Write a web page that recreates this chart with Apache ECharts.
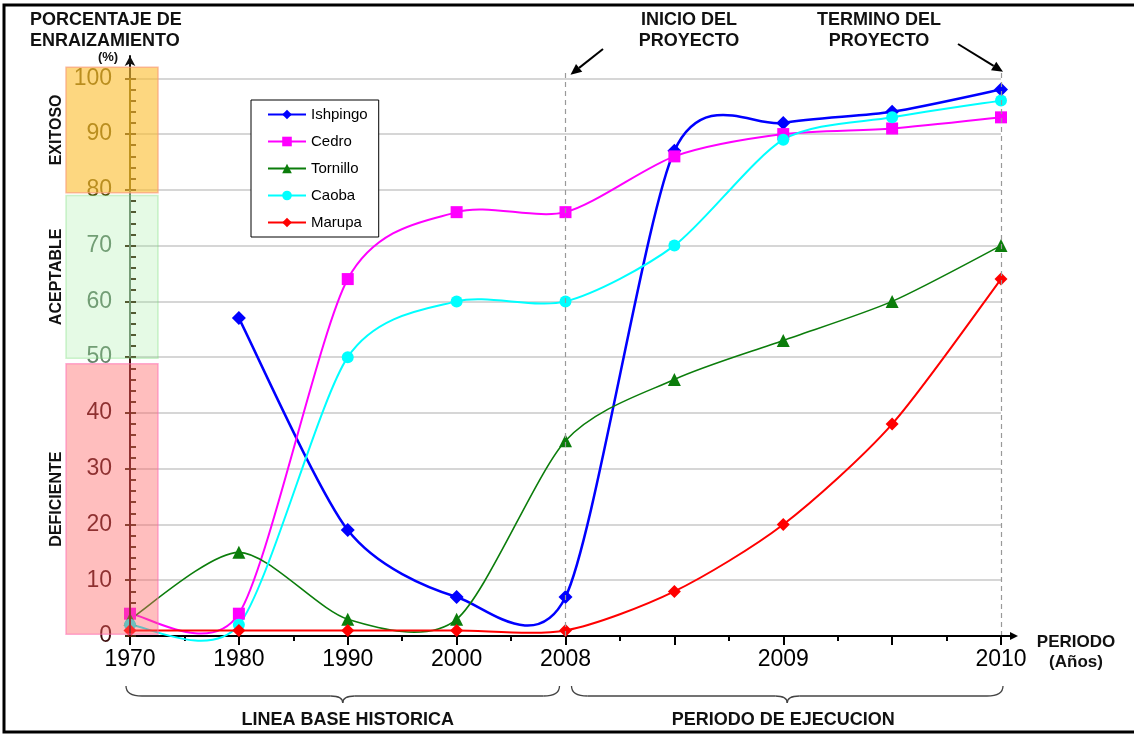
<!DOCTYPE html>
<html>
<head>
<meta charset="utf-8">
<script src="https://cdn.jsdelivr.net/npm/echarts@6/dist/echarts.min.js"></script>
<style>
html, body { margin: 0; padding: 0; background: #fff; }
#chart { width: 1134px; height: 736px; }
</style>
</head>
<body>
<div id="chart"></div>
<script>
// eje X: periodos (los vacios son los semestres intermedios)
const periodos = ['1970', '1980', '1990', '2000', '2008', '', '2009', '', '2010'];
const yTicks = [0, 10, 20, 30, 40, 50, 60, 70, 80, 90, 100];

// porcentaje de enraizamiento por especie
const ishpingo = [null, 57, 19, 7, 7, 87, 92, 94, 98];
const cedro = [4, 4, 64, 76, 76, 86, 90, 91, 93];
const tornillo = [3, 15, 3, 3, 35, 46, 53, 60, 70];
const caoba = [2, 2, 50, 60, 60, 70, 89, 93, 96];
const marupa = [1, 1, 1, 1, 1, 8, 20, 38, 64];

// franjas de calificacion
const zonaNombre = ['DEFICIENTE', 'ACEPTABLE', 'EXITOSO'];
const zonaDesde = [0.3, 49.8, 79.5];
const zonaHasta = [48.8, 79, 102];

const FONT = '"Liberation Sans", Arial, sans-serif';
const TENSION = 0.8; // suavizado tipo Excel (curva cardinal)

const chartDom = document.getElementById('chart');
const myChart = echarts.init(chartDom);

// ticks menores cada 2 %
const minorTicks = [];
for (let v = 0; v <= 100; v += 2) minorTicks.push(v);

function toPairs(arr) {
  const out = [];
  arr.forEach((v, i) => { if (v !== null) out.push([i, v]); });
  return out;
}

// marcadores (la linea la dibuja la serie custom)
function marcas(name, arr, color, symbol, size, width) {
  return {
    name: name,
    type: 'line',
    z: 3,
    data: toPairs(arr),
    symbol: symbol,
    symbolSize: size,
    showAllSymbol: true,
    color: color,
    itemStyle: { color: color },
    lineStyle: { color: color, width: width, opacity: 0 },
    animation: false
  };
}

// linea suavizada que se pasa de los puntos como en Excel
function curva(name, arr, color, width) {
  const pts = toPairs(arr);
  return {
    name: name,
    type: 'custom',
    z: 2,
    silent: true,
    clip: false,
    data: pts,
    renderItem: function (params, api) {
      const j = params.dataIndex;
      if (j >= pts.length - 1) return null;
      const P = k => api.coord(pts[Math.max(0, Math.min(pts.length - 1, k))]);
      const a = P(j - 1), b = P(j), c = P(j + 1), d = P(j + 2);
      const t = TENSION / 6;
      return {
        type: 'bezierCurve',
        shape: {
          x1: b[0], y1: b[1], x2: c[0], y2: c[1],
          cpx1: b[0] + (c[0] - a[0]) * t, cpy1: b[1] + (c[1] - a[1]) * t,
          cpx2: c[0] - (d[0] - b[0]) * t, cpy2: c[1] - (d[1] - b[1]) * t
        },
        style: { stroke: color, lineWidth: width, fill: null }
      };
    },
    animation: false
  };
}

function labelColor(val) {
  const v = Number(val);
  if (v >= 80) return '#4f3f00';
  if (v >= 50) return '#66846a';
  return '#3d0c0c';
}

const especies = [
  ['Ishpingo', ishpingo, '#0000ff', 'diamond', 14, 2.5],
  ['Cedro', cedro, '#ff00ff', 'rect', 12, 2],
  ['Tornillo', tornillo, '#0b7d0b', 'triangle', 13, 1.6],
  ['Caoba', caoba, '#00ffff', 'circle', 12, 2],
  ['Marupa', marupa, '#ff0000', 'diamond', 13, 2]
];

const series = [];
especies.forEach(e => series.push(marcas(e[0], e[1], e[2], e[3], e[4], e[5])));
especies.forEach(e => series.push(curva(e[0], e[1], e[2], e[5])));
series.push({
  name: 'guias',
  type: 'line',
  data: [],
  clip: false,
  silent: true,
  markLine: {
    silent: true,
    animation: false,
    symbol: ['none', 'none'],
    label: { show: false },
    data: [
      [{ coord: [4, 0], lineStyle: { color: '#999', type: [5, 4], width: 1.2 } }, { coord: [4, 101] }],
      [{ coord: [8, 0], lineStyle: { color: '#999', type: [5, 4], width: 1.2 } }, { coord: [8, 101] }],
      [{ coord: [0, 0], lineStyle: { color: '#3d0c0c', type: 'solid', width: 2 } }, { coord: [0, 50] }],
      [{ coord: [0, 50], lineStyle: { color: '#6b806b', type: 'solid', width: 2 } }, { coord: [0, 80] }],
      [{ coord: [0, 80], lineStyle: { color: '#5e4c00', type: 'solid', width: 2 } }, { coord: [0, 100] }]
    ]
  }
});

const option = {
  animation: false,
  backgroundColor: '#fff',
  textStyle: { fontFamily: FONT },
  grid: { left: 130, right: 133, top: 56, bottom: 100, outerBoundsMode: 'none' },
  legend: {
    orient: 'vertical',
    left: 251,
    top: 100,
    padding: [7, 11, 7, 16],
    itemGap: 12,
    itemWidth: 38,
    itemHeight: 12,
    backgroundColor: '#fff',
    borderColor: '#000',
    borderWidth: 1,
    borderRadius: 0,
    textStyle: { fontSize: 15, color: '#000', fontFamily: FONT },
    data: especies.map(e => ({ name: e[0], lineStyle: { opacity: 1 } }))
  },
  xAxis: [
    {
      type: 'value', min: 0, max: 8, interval: 0.5,
      axisLine: { show: true, lineStyle: { color: '#000', width: 2 } },
      axisTick: { show: true, length: 5, lineStyle: { color: '#000', width: 2 } },
      axisLabel: { show: false },
      splitLine: { show: false }
    },
    {
      type: 'value', min: 0, max: 8, interval: 1, position: 'bottom',
      axisLine: { show: false },
      axisTick: { show: true, length: 9, lineStyle: { color: '#000', width: 2 } },
      axisLabel: {
        fontSize: 23, margin: 12, color: '#000', fontFamily: FONT,
        formatter: v => periodos[v] || ''
      },
      splitLine: { show: false }
    }
  ],
  yAxis: [
    {
      type: 'value', min: 0, max: 104, interval: 10, position: 'left',
      axisLine: {
        show: true, symbol: ['none', 'arrow'], symbolSize: [8, 10],
        lineStyle: { color: '#111', width: 2 }
      },
      axisTick: { show: true, customValues: yTicks, length: 5, lineStyle: { color: '#3d2a10', width: 2 } },
      axisLabel: {
        customValues: yTicks, fontSize: 23, margin: 18, fontFamily: FONT,
        color: labelColor
      },
      splitLine: {
        show: true,
        lineStyle: {
          color: ['#c8c8c8', '#c8c8c8', '#c8c8c8', '#c8c8c8', '#c8c8c8', '#c8c8c8',
                  '#c8c8c8', '#c8c8c8', '#c8c8c8', '#c8c8c8', '#c8c8c8', 'rgba(0,0,0,0)'],
          width: 1.5
        }
      }
    },
    {
      type: 'value', min: 0, max: 104, position: 'left',
      axisLine: { show: false },
      axisTick: { show: true, inside: true, customValues: minorTicks, length: 6, lineStyle: { color: '#3d2a10', width: 2 } },
      axisLabel: { show: false },
      splitLine: { show: false }
    }
  ],
  series: series
};

myChart.setOption(option);

// elementos decorativos, ubicados con las escalas del grafico
function px(x, y) {
  return myChart.convertToPixel({ xAxisIndex: 0, yAxisIndex: 0 }, [x, y]);
}

function flecha(x1, y1, x2, y2, L, W, lw) {
  const a = Math.atan2(y2 - y1, x2 - x1);
  const bx = x2 - L * Math.cos(a), by = y2 - L * Math.sin(a);
  return [
    { type: 'line', z: 20, shape: { x1: x1, y1: y1, x2: bx, y2: by }, style: { stroke: '#000', lineWidth: lw } },
    {
      type: 'polygon', z: 20,
      shape: { points: [[x2, y2], [bx + W * Math.sin(a), by - W * Math.cos(a)], [bx - W * Math.sin(a), by + W * Math.cos(a)]] },
      style: { fill: '#000' }
    }
  ];
}

function texto(t, x, y, size, align, vAlign, extra) {
  return Object.assign({
    type: 'text', z: 20, x: x, y: y,
    style: {
      text: t, fill: '#111', align: align, verticalAlign: vAlign,
      font: 'bold ' + size + 'px ' + FONT, lineHeight: size + 3
    }
  }, extra || {});
}

// llave horizontal bajo el eje
function llave(x1, x2, yTop) {
  const m = (x1 + x2) / 2, yl = yTop + 10, yp = yTop + 17;
  const st = { stroke: '#444', lineWidth: 1.3, fill: null };
  const q = (ax1, ay1, ax2, ay2, cx, cy) => ({
    type: 'bezierCurve', z: 20, shape: { x1: ax1, y1: ay1, x2: ax2, y2: ay2, cpx1: cx, cpy1: cy }, style: st
  });
  const l = (ax1, ay1, ax2, ay2) => ({
    type: 'line', z: 20, shape: { x1: ax1, y1: ay1, x2: ax2, y2: ay2 }, style: st
  });
  return [
    q(x1, yTop, x1 + 16, yl, x1, yl),
    l(x1 + 16, yl, m - 12, yl),
    q(m - 12, yl, m, yp, m, yl),
    q(m, yp, m + 12, yl, m, yl),
    l(m + 12, yl, x2 - 16, yl),
    q(x2 - 16, yl, x2, yTop, x2, yl)
  ];
}

const p0 = px(0, 0);
const p4 = px(4, 0);
const p8 = px(8, 0);
const p4top = px(4, 101);
const p8top = px(8, 101);
const ax = p0[0];

const zonaFill = ['rgba(255,100,100,0.42)', 'rgba(150,235,150,0.25)', 'rgba(252,190,50,0.62)'];
const zonaStroke = ['rgba(255,110,180,0.55)', 'rgba(120,220,120,0.35)', 'rgba(250,160,120,0.7)'];

const graphics = [];
zonaNombre.forEach((n, i) => {
  const top = px(0, zonaHasta[i])[1];
  const bot = px(0, zonaDesde[i])[1];
  graphics.push({
    type: 'rect', z: 10,
    shape: { x: ax - 64, y: top, width: 92, height: bot - top },
    style: { fill: zonaFill[i], stroke: zonaStroke[i], lineWidth: 1.5 }
  });
  graphics.push(texto(n, ax - 73, (top + bot) / 2, 16, 'center', 'middle', { rotation: Math.PI / 2 }));
});

graphics.push(
  texto('PORCENTAJE DE\nENRAIZAMIENTO', 30, 10, 18, 'left', 'top'),
  texto('(%)', 108, 57, 13, 'center', 'middle'),
  texto('INICIO DEL\nPROYECTO', 689, 10, 18, 'center', 'top'),
  texto('TERMINO DEL\nPROYECTO', 879, 10, 18, 'center', 'top'),
  texto('PERIODO\n(Años)', 1076, 632, 17, 'center', 'top'),
  texto('LINEA BASE HISTORICA', (p0[0] + p4[0]) / 2, 720, 18, 'center', 'middle'),
  texto('PERIODO DE EJECUCION', (p4[0] + p8[0]) / 2, 720, 18, 'center', 'middle')
);
graphics.push(...llave(p0[0] - 4, p4[0] - 6, 686));
graphics.push(...llave(p4[0] + 6, p8[0] + 2, 686));

graphics.push(...flecha(p8[0], p8[1], p8[0] + 17, p8[1], 8, 4, 2));
graphics.push(...flecha(603, 49, p4top[0] + 5, p4top[1] + 2, 11, 5, 2));
graphics.push(...flecha(958, 44, p8top[0] + 2, p8top[1] - 1, 11, 5, 2));

graphics.push({
  type: 'rect', z: 30,
  shape: { x: 4, y: 5, width: 1200, height: 727 },
  style: { fill: null, stroke: '#000', lineWidth: 3 }
});

myChart.setOption({ graphic: graphics });

window.onresize = () => { myChart.resize(); };
</script>
</body>
</html>
